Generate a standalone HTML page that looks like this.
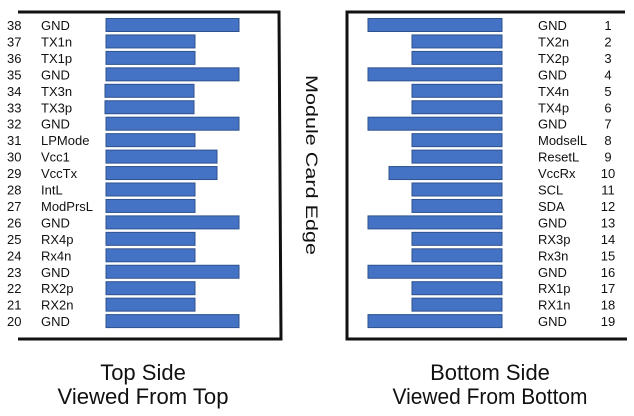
<!DOCTYPE html>
<html><head><meta charset="utf-8"><style>html,body{margin:0;padding:0;background:#fff;}svg{display:block}</style></head>
<body>
<svg width="634" height="416" xmlns="http://www.w3.org/2000/svg" font-family="Liberation Sans, Arial, sans-serif">
<rect width="634" height="416" fill="#fff"/>
<g stroke="#111" stroke-width="3" fill="none">
<polyline points="18,12 279,12 281,339 18,339"/>
<polyline points="625,12 347,12 347,339 627,339"/>
</g>
<g font-size="13" fill="#111">
<g transform="translate(0,25)"><rect x="106" y="-6.5" width="133" height="13" fill="#4472C4" stroke="#2F528F"/><rect x="368" y="-6.5" width="134" height="13" fill="#4472C4" stroke="#2F528F"/><text x="7" y="5">38</text><text x="41" y="5">GND</text><text x="538" y="5">GND</text><text x="608" y="5" text-anchor="middle">1</text></g>
<g transform="translate(0,41.45)"><rect x="106" y="-6.5" width="89" height="13" fill="#4472C4" stroke="#2F528F"/><rect x="412" y="-6.5" width="90" height="13" fill="#4472C4" stroke="#2F528F"/><text x="7" y="5">37</text><text x="41" y="5">TX1n</text><text x="538" y="5">TX2n</text><text x="608" y="5" text-anchor="middle">2</text></g>
<g transform="translate(0,57.9)"><rect x="106" y="-6.5" width="89" height="13" fill="#4472C4" stroke="#2F528F"/><rect x="412" y="-6.5" width="90" height="13" fill="#4472C4" stroke="#2F528F"/><text x="7" y="5">36</text><text x="41" y="5">TX1p</text><text x="538" y="5">TX2p</text><text x="608" y="5" text-anchor="middle">3</text></g>
<g transform="translate(0,74.35)"><rect x="106" y="-6.5" width="133" height="13" fill="#4472C4" stroke="#2F528F"/><rect x="368" y="-6.5" width="134" height="13" fill="#4472C4" stroke="#2F528F"/><text x="7" y="5">35</text><text x="41" y="5">GND</text><text x="538" y="5">GND</text><text x="608" y="5" text-anchor="middle">4</text></g>
<g transform="translate(0,90.8)"><rect x="105" y="-6.5" width="89" height="13" fill="#4472C4" stroke="#2F528F"/><rect x="412" y="-6.5" width="90" height="13" fill="#4472C4" stroke="#2F528F"/><text x="7" y="5">34</text><text x="41" y="5">TX3n</text><text x="538" y="5">TX4n</text><text x="608" y="5" text-anchor="middle">5</text></g>
<g transform="translate(0,107.25)"><rect x="105" y="-6.5" width="89" height="13" fill="#4472C4" stroke="#2F528F"/><rect x="412" y="-6.5" width="90" height="13" fill="#4472C4" stroke="#2F528F"/><text x="7" y="5">33</text><text x="41" y="5">TX3p</text><text x="538" y="5">TX4p</text><text x="608" y="5" text-anchor="middle">6</text></g>
<g transform="translate(0,123.7)"><rect x="106" y="-6.5" width="133" height="13" fill="#4472C4" stroke="#2F528F"/><rect x="368" y="-6.5" width="134" height="13" fill="#4472C4" stroke="#2F528F"/><text x="7" y="5">32</text><text x="41" y="5">GND</text><text x="538" y="5">GND</text><text x="608" y="5" text-anchor="middle">7</text></g>
<g transform="translate(0,140.15)"><rect x="106" y="-6.5" width="89" height="13" fill="#4472C4" stroke="#2F528F"/><rect x="412" y="-6.5" width="90" height="13" fill="#4472C4" stroke="#2F528F"/><text x="7" y="5">31</text><text x="41" y="5">LPMode</text><text x="538" y="5">ModselL</text><text x="608" y="5" text-anchor="middle">8</text></g>
<g transform="translate(0,156.6)"><rect x="106" y="-6.5" width="111" height="13" fill="#4472C4" stroke="#2F528F"/><rect x="412" y="-6.5" width="90" height="13" fill="#4472C4" stroke="#2F528F"/><text x="7" y="5">30</text><text x="41" y="5">Vcc1</text><text x="538" y="5">ResetL</text><text x="608" y="5" text-anchor="middle">9</text></g>
<g transform="translate(0,173.05)"><rect x="106" y="-6.5" width="111" height="13" fill="#4472C4" stroke="#2F528F"/><rect x="389" y="-6.5" width="113" height="13" fill="#4472C4" stroke="#2F528F"/><text x="7" y="5">29</text><text x="41" y="5">VccTx</text><text x="538" y="5">VccRx</text><text x="608" y="5" text-anchor="middle">10</text></g>
<g transform="translate(0,189.5)"><rect x="106" y="-6.5" width="89" height="13" fill="#4472C4" stroke="#2F528F"/><rect x="412" y="-6.5" width="90" height="13" fill="#4472C4" stroke="#2F528F"/><text x="7" y="5">28</text><text x="41" y="5">IntL</text><text x="538" y="5">SCL</text><text x="608" y="5" text-anchor="middle">11</text></g>
<g transform="translate(0,205.95)"><rect x="106" y="-6.5" width="89" height="13" fill="#4472C4" stroke="#2F528F"/><rect x="412" y="-6.5" width="90" height="13" fill="#4472C4" stroke="#2F528F"/><text x="7" y="5">27</text><text x="41" y="5">ModPrsL</text><text x="538" y="5">SDA</text><text x="608" y="5" text-anchor="middle">12</text></g>
<g transform="translate(0,222.4)"><rect x="106" y="-6.5" width="133" height="13" fill="#4472C4" stroke="#2F528F"/><rect x="368" y="-6.5" width="134" height="13" fill="#4472C4" stroke="#2F528F"/><text x="7" y="5">26</text><text x="41" y="5">GND</text><text x="538" y="5">GND</text><text x="608" y="5" text-anchor="middle">13</text></g>
<g transform="translate(0,238.85)"><rect x="106" y="-6.5" width="89" height="13" fill="#4472C4" stroke="#2F528F"/><rect x="412" y="-6.5" width="90" height="13" fill="#4472C4" stroke="#2F528F"/><text x="7" y="5">25</text><text x="41" y="5">RX4p</text><text x="538" y="5">RX3p</text><text x="608" y="5" text-anchor="middle">14</text></g>
<g transform="translate(0,255.3)"><rect x="106" y="-6.5" width="89" height="13" fill="#4472C4" stroke="#2F528F"/><rect x="412" y="-6.5" width="90" height="13" fill="#4472C4" stroke="#2F528F"/><text x="7" y="5">24</text><text x="41" y="5">Rx4n</text><text x="538" y="5">Rx3n</text><text x="608" y="5" text-anchor="middle">15</text></g>
<g transform="translate(0,271.75)"><rect x="106" y="-6.5" width="133" height="13" fill="#4472C4" stroke="#2F528F"/><rect x="368" y="-6.5" width="134" height="13" fill="#4472C4" stroke="#2F528F"/><text x="7" y="5">23</text><text x="41" y="5">GND</text><text x="538" y="5">GND</text><text x="608" y="5" text-anchor="middle">16</text></g>
<g transform="translate(0,288.2)"><rect x="106" y="-6.5" width="89" height="13" fill="#4472C4" stroke="#2F528F"/><rect x="412" y="-6.5" width="90" height="13" fill="#4472C4" stroke="#2F528F"/><text x="7" y="5">22</text><text x="41" y="5">RX2p</text><text x="538" y="5">RX1p</text><text x="608" y="5" text-anchor="middle">17</text></g>
<g transform="translate(0,304.65)"><rect x="106" y="-6.5" width="89" height="13" fill="#4472C4" stroke="#2F528F"/><rect x="412" y="-6.5" width="90" height="13" fill="#4472C4" stroke="#2F528F"/><text x="7" y="5">21</text><text x="41" y="5">RX2n</text><text x="538" y="5">RX1n</text><text x="608" y="5" text-anchor="middle">18</text></g>
<g transform="translate(0,321.1)"><rect x="106" y="-6.5" width="133" height="13" fill="#4472C4" stroke="#2F528F"/><rect x="368" y="-6.5" width="134" height="13" fill="#4472C4" stroke="#2F528F"/><text x="7" y="5">20</text><text x="41" y="5">GND</text><text x="538" y="5">GND</text><text x="608" y="5" text-anchor="middle">19</text></g>
</g>
<text transform="translate(306,75) rotate(90)" font-size="17" fill="#111" textLength="180" lengthAdjust="spacingAndGlyphs">Module Card Edge</text>
<g font-size="22" fill="#111" text-anchor="middle">
<text x="143" y="380">Top Side</text>
<text x="143" y="404" textLength="171" lengthAdjust="spacingAndGlyphs">Viewed From Top</text>
<text x="490" y="380">Bottom Side</text>
<text x="490" y="404" textLength="195" lengthAdjust="spacingAndGlyphs">Viewed From Bottom</text>
</g>
</svg>
</body></html>
